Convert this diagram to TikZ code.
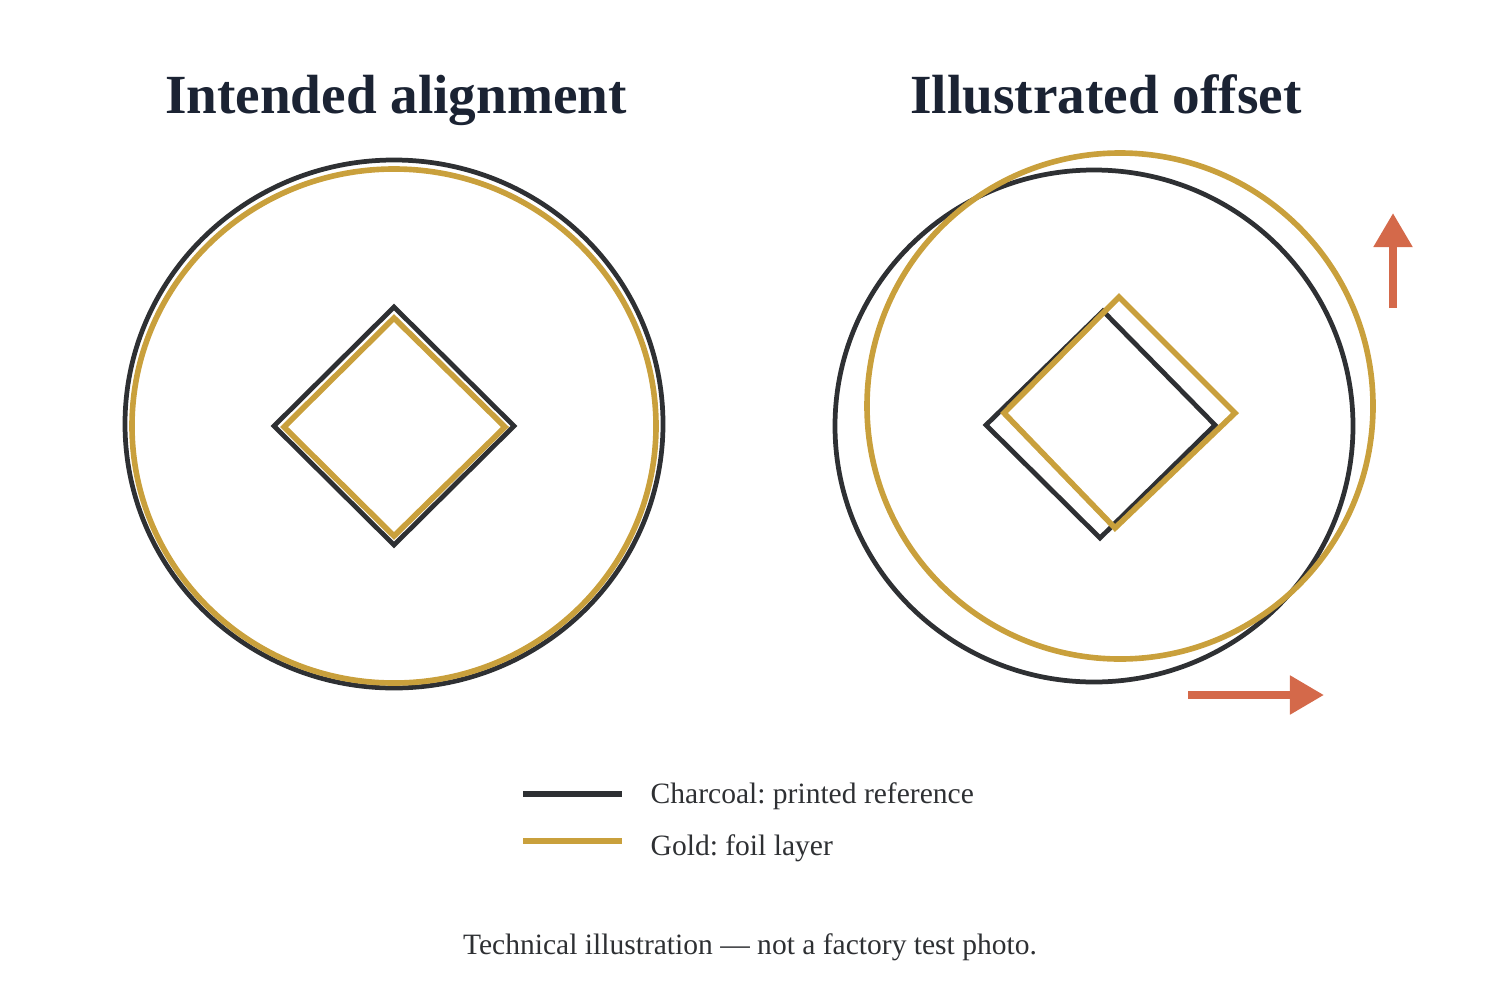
\documentclass[tikz,border=0pt]{standalone}
\usepackage{fontspec}
\setmainfont{Liberation Serif}
\usetikzlibrary{arrows.meta}
\frenchspacing

\definecolor{charcoal}{HTML}{2E3033}
\definecolor{gold}{HTML}{C9A03C}
\definecolor{shift}{HTML}{D4694A}
\definecolor{navy}{HTML}{1B2333}

\tikzset{
    printline/.style={draw=charcoal, line width=1.35pt},
    foilline/.style={draw=gold, line width=1.6pt},
    shiftarrow/.style={draw=shift, line width=2.3pt, -{Triangle[length=0.34cm, width=0.37cm]}},
    headline/.style={font=\bfseries\fontsize{15.7}{19}\selectfont, text=navy, anchor=base},
    legendtext/.style={font=\fontsize{8.4}{10}\selectfont, text=charcoal, anchor=base west, inner sep=0pt},
}

\begin{document}
\begin{tikzpicture}[x=0.01cm, y=-0.01cm]
    \useasboundingbox (0,0) rectangle (1500,1000);

    % Titles
    \node[headline] (introTitle) at (396,113) {Intended alignment};
    \node[headline] (offsetTitle) at (1106,113) {Illustrated offset};

    % Intended alignment: charcoal reference under gold foil
    \draw[printline] (394,424) ellipse (269 and 264);
    \draw[foilline] (394,426) ellipse (262 and 257);
    \draw[printline] (394,307) -- (514,426) -- (394,545) -- (274,426) -- cycle;
    \draw[foilline] (394,318) -- (505,427) -- (394,536) -- (284,427) -- cycle;

    % Illustrated offset: gold shifted up and right
    \draw[printline] (1094,426) ellipse (259 and 256);
    \draw[printline] (1103,311) -- (1215,425) -- (1100,538) -- (986,425) -- cycle;
    \draw[foilline] (1120,406) ellipse (253 and 253);
    \draw[foilline] (1119,297) -- (1235,413) -- (1115,528) -- (1004,413) -- cycle;

    % Direction of the offset
    \draw[shiftarrow] (1393,308) -- (1393,213);
    \draw[shiftarrow] (1188,695) -- (1324,695);

    % Legend
    \coordinate (printA) at (523,794);
    \coordinate (printB) at (622,794);
    \coordinate (foilA) at (523,841);
    \coordinate (foilB) at (622,841);
    \draw[draw=charcoal, line width=1.9pt] (printA) -- (printB);
    \draw[draw=gold, line width=1.9pt] (foilA) -- (foilB);
    \node[legendtext] (printLabel) at (650,803) {Charcoal: printed reference};
    \node[legendtext] (foilLabel) at (650,855) {Gold: foil layer};

    % Footer note
    \node[font=\fontsize{8.4}{10}\selectfont, text=charcoal, anchor=base] (footNote) at (750,954)
        {Technical illustration — not a factory test photo.};
\end{tikzpicture}
\end{document}
